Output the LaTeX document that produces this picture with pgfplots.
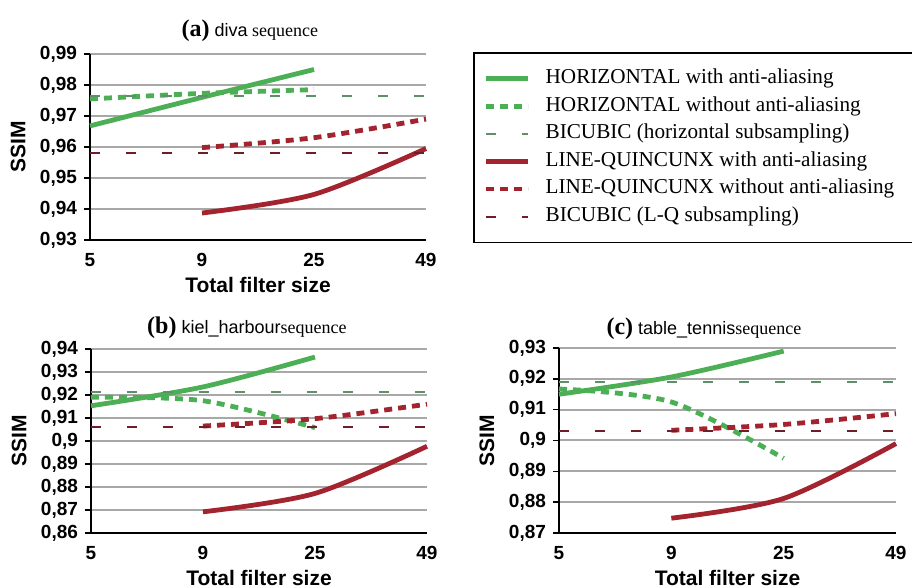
\documentclass[border=0pt]{standalone}
\usepackage{fontspec}
\setmainfont{Liberation Serif}
\setsansfont{Liberation Sans}
\usepackage{pgfplots}
\pgfplotsset{compat=1.18}
\definecolor{hgreen}{HTML}{4DAF55}
\definecolor{lqred}{HTML}{A3232F}
\definecolor{bichcol}{HTML}{5E8F6A}
\definecolor{biclqcol}{HTML}{6E1E28}
\definecolor{gridgray}{HTML}{A8A8A8}

\pgfplotsset{
  panel/.style={
    scale only axis, width=168pt, height=93pt,
    xmin=0, xmax=3, xtick={0,1,2,3}, xticklabels={5,9,25,49},
    axis lines*=left, x axis line style={-}, y axis line style={-},
    axis line style={black, line width=1pt},
    ymajorgrids, grid style={draw=gridgray, line width=1pt},
    tick align=outside, major tick length=3pt,
    ytick style={black, line width=0.8pt}, xtick style={draw=none},
    tick label style={font=\sffamily\bfseries\fontsize{9.5}{11}\selectfont},
    /pgf/number format/assume math mode=true,
    yticklabel style={/pgf/number format/use comma, /pgf/number format/fixed, /pgf/number format/precision=2},
    label style={font=\sffamily\bfseries\fontsize{10.5}{12}\selectfont},
    xlabel={Total filter size}, ylabel={SSIM},
    xlabel style={at={(axis description cs:0.5,-0.242)}, anchor=center},
    ylabel style={at={(axis description cs:-0.214,0.5)}, anchor=center},
    clip=false,
  },
  haa/.style={hgreen, line width=2.4pt, smooth},
  hno/.style={hgreen, line width=2.4pt, smooth, dash pattern=on 4pt off 3pt},
  bich/.style={bichcol, line width=1pt, dash pattern=on 5pt off 13pt},
  lqaa/.style={lqred, line width=2.4pt, smooth},
  lqno/.style={lqred, line width=2.4pt, smooth, dash pattern=on 4pt off 3pt},
  biclq/.style={biclqcol, line width=1pt, dash pattern=on 5pt off 13pt},
}

\begin{document}
\begin{tikzpicture}

% (a) diva
\begin{axis}[panel, at={(45pt,174pt)}, anchor=south west,
  ymin=0.93, ymax=0.99, ytick={0.93,0.94,0.95,0.96,0.97,0.98,0.99},
  title={\textbf{\fontsize{12}{14}\selectfont(a)}\ {\fontsize{9}{11}\selectfont\textsf{diva} sequence}},
  title style={at={(axis description cs:0.476,1)}, anchor=center, yshift=5.5pt},
  legend style={at={(axis description cs:1.140,1.011)}, anchor=north west,
    draw=black, line width=0.8pt, fill=white,
    font=\fontsize{10.6}{12}\selectfont, inner xsep=5pt, inner ysep=8pt,
    nodes={inner sep=0pt, text height=7.4pt, text depth=2.4pt},
    row sep=4pt, /tikz/every odd column/.append style={column sep=7.5pt}},
  legend cell align=left,
  legend image code/.code={\draw[#1] (0pt,0pt) -- (21pt,0pt);},
]
\addplot[haa] coordinates {(0,0.9668)(1,0.9760)(2,0.9850)};
\addplot[hno] coordinates {(0,0.9755)(1,0.9773)(2,0.9785)};
\addplot[bich] coordinates {(0,0.9763)(1,0.9763)(2,0.9763)(3,0.9763)};
\addplot[lqaa] coordinates {(1,0.9387)(2,0.9447)(3,0.9595)};
\addplot[lqno] coordinates {(1,0.9598)(2,0.9630)(3,0.9690)};
\addplot[biclq] coordinates {(0,0.9580)(1,0.9580)(2,0.9580)(3,0.9580)};
\legend{HORIZONTAL with anti-aliasing,
  HORIZONTAL without anti-aliasing,
  BICUBIC (horizontal subsampling),
  LINE-QUINCUNX with anti-aliasing,
  LINE-QUINCUNX without anti-aliasing\rule{30pt}{0pt},
  BICUBIC (L-Q subsampling)}
\end{axis}

% (b) kiel_harbour
\begin{axis}[panel, at={(45.5pt,27.5pt)}, anchor=south west, height=92pt,
  ymin=0.86, ymax=0.94, ytick={0.86,0.87,0.88,0.89,0.90,0.91,0.92,0.93,0.94},
  title={\textbf{\fontsize{12}{14}\selectfont(b)}\ {\fontsize{9}{11}\selectfont\textsf{kiel\_harbour}sequence}},
  title style={at={(axis description cs:0.464,1)}, anchor=center, yshift=4.5pt},
]
\addplot[haa] coordinates {(0,0.9153)(1,0.9235)(2,0.9365)};
\addplot[hno] coordinates {(0,0.9190)(1,0.9175)(2,0.9058)};
\addplot[bich] coordinates {(0,0.9215)(1,0.9215)(2,0.9215)(3,0.9215)};
\addplot[lqaa] coordinates {(1,0.8692)(2,0.8772)(3,0.8977)};
\addplot[lqno] coordinates {(1,0.9065)(2,0.9097)(3,0.9160)};
\addplot[biclq] coordinates {(0,0.9061)(1,0.9061)(2,0.9061)(3,0.9061)};
\end{axis}

% (c) table_tennis
\begin{axis}[panel, at={(279.5pt,27.5pt)}, anchor=south west, width=168.5pt, height=92.5pt,
  ymin=0.87, ymax=0.93, ytick={0.87,0.88,0.89,0.90,0.91,0.92,0.93},
  title={\textbf{\fontsize{12}{14}\selectfont(c)}\ {\fontsize{9}{11}\selectfont\textsf{table\_tennis}sequence}},
  title style={at={(axis description cs:0.43,1)}, anchor=center, yshift=3.5pt},
]
\addplot[haa] coordinates {(0,0.9150)(1,0.9206)(2,0.9290)};
\addplot[hno] coordinates {(0,0.9167)(1,0.9125)(2,0.8942)};
\addplot[bich] coordinates {(0,0.9190)(1,0.9190)(2,0.9190)(3,0.9190)};
\addplot[lqaa] coordinates {(1,0.8748)(2,0.8812)(3,0.8990)};
\addplot[lqno] coordinates {(1,0.9033)(2,0.9052)(3,0.9087)};
\addplot[biclq] coordinates {(0,0.9030)(1,0.9030)(2,0.9030)(3,0.9030)};
\end{axis}

\pgfresetboundingbox
\useasboundingbox (0pt,0pt) rectangle (456pt,294pt);
\end{tikzpicture}
\end{document}
